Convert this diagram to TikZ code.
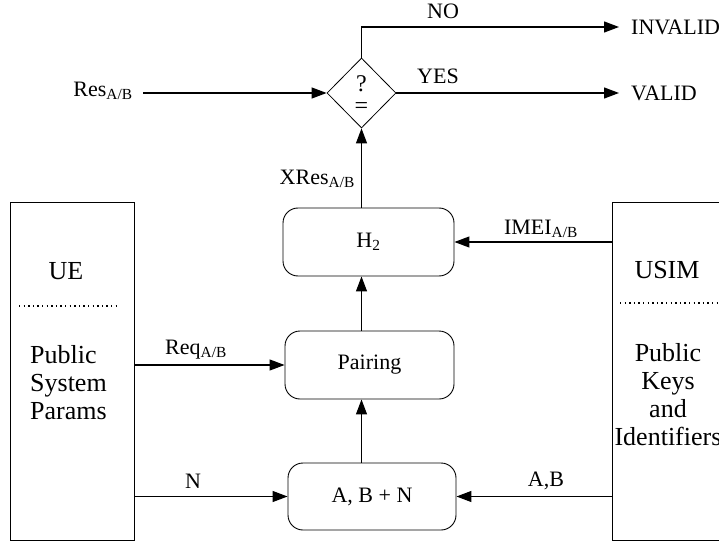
\documentclass[tikz,border=0pt]{standalone}
\usepackage{fontspec}
\setmainfont{Liberation Serif}
\usetikzlibrary{shapes.geometric,arrows.meta,calc}
\begin{document}
\begin{tikzpicture}[x=1pt,y=-1pt,
  arr/.style={line width=1.2pt,-{Triangle[length=15pt,width=11pt]}},
  bigbox/.style={draw,line width=0.9pt,inner sep=0pt},
  rbox/.style={draw,line width=0.9pt,rounded corners=15pt,inner sep=0pt,font=\fontsize{22}{25}\selectfont},
  lbl/.style={inner sep=0pt,font=\fontsize{22}{25}\selectfont},
  big/.style={inner sep=0pt,font=\fontsize{26}{28}\selectfont},
  dots/.style={line width=1.4pt,dash pattern=on 1.4pt off 3.2pt}
]
\clip (0,0) rectangle (719,545);
\fill[white] (0,0) rectangle (719,545);

% side boxes
\node[bigbox,minimum width=124pt,minimum height=338pt] (ue) at (72,371) {};
\node[bigbox,minimum width=128pt,minimum height=338pt] (usim) at (676,371) {};

\node[big] (uet) at (66,271) {UE};
\coordinate (ued1) at (19,306);
\coordinate (ued2) at (119,306);
\draw[dots] (ued1) -- (ued2);
\node[big,anchor=west,align=left] (uep) at (30,383) {Public\\System\\Params};

\node[big] (usimt) at (667,270) {USIM};
\coordinate (usd1) at (620,303);
\coordinate (usd2) at (722,303);
\draw[dots] (usd1) -- (usd2);
\node[big,align=center] (usimp) at (668,395) {Public\\Keys\\and\\Identifiers};

% process boxes
\node[rbox,minimum width=171pt,minimum height=68pt] (h2) at (368.5,242) {H\textsubscript{2}};
\node[rbox,minimum width=169pt,minimum height=68pt] (pair) at (369.5,365) {Pairing};
\node[rbox,minimum width=168pt,minimum height=67pt] (abn) at (372,496.5) {A, B + N};

% decision
\node[draw,diamond,line width=0.8pt,minimum width=69pt,minimum height=70pt,inner sep=0pt] (dia) at (361.5,93) {};
\node[lbl,font=\fontsize{24}{26}\selectfont] (q) at (361.5,84) {?};
\node[lbl,font=\fontsize{24}{26}\selectfont] (eq) at (361.5,108) {=};

% outputs
\node[lbl,anchor=west] (invalid) at (631,27) {INVALID};
\node[lbl,anchor=west] (valid) at (631,93) {VALID};
\node[lbl] (no) at (443,11) {NO};
\node[lbl] (yes) at (438,76) {YES};

% Res input
\node[lbl] (res) at (103,91) {Res\textsubscript{A/B}};
\coordinate (resstart) at (143,93);
\draw[arr] (resstart) -- (dia.west);

\draw[arr] (dia.north) |- ([xshift=-12pt]invalid.west);
\draw[arr] (dia.east) -- ([xshift=-12pt]valid.west);

% vertical flow
\draw[arr] (abn.north -| dia.south) -- (pair.south -| dia.south);
\draw[arr] (pair.north -| dia.south) -- (h2.south -| dia.south);
\draw[arr] (h2.north -| dia.south) -- (dia.south);
\node[lbl,anchor=east] (xres) at (355,179) {XRes\textsubscript{A/B}};

% horizontal inputs
\draw[arr] (usim.west |- h2) -- (h2.east);
\node[lbl] (imei) at (541,229) {IMEI\textsubscript{A/B}};
\draw[arr] (ue.east |- pair) -- (pair.west);
\node[lbl] (req) at (196,350) {Req\textsubscript{A/B}};
\draw[arr] (ue.east |- abn) -- (abn.west);
\node[lbl] (nl) at (193,481) {N};
\draw[arr] (usim.west |- abn) -- (abn.east);
\node[lbl] (ab) at (546,481) {A,B};
\end{tikzpicture}
\end{document}
